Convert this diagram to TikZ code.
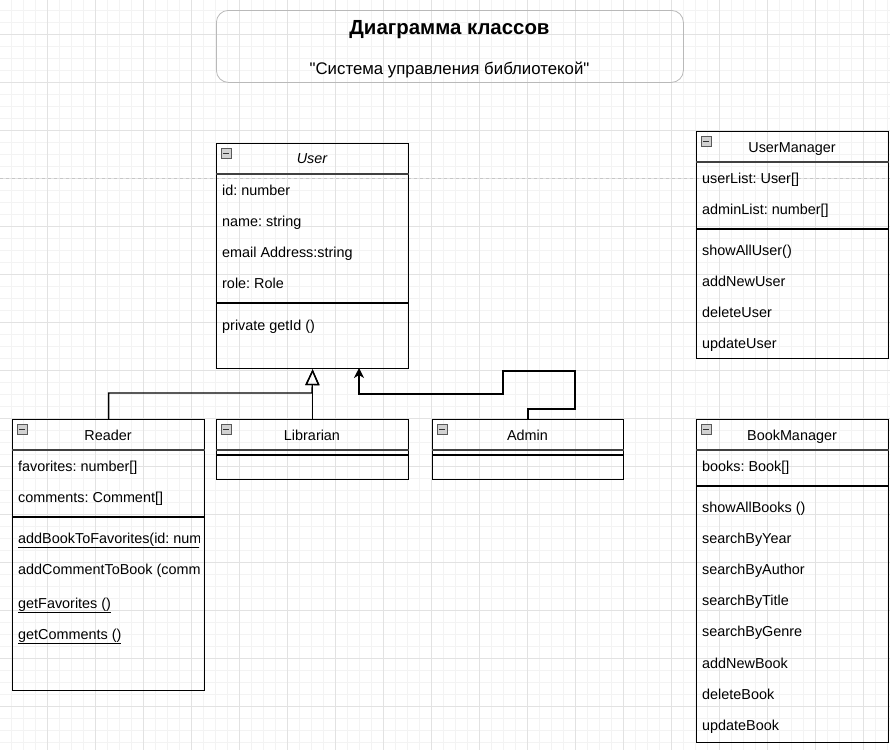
\documentclass[tikz,border=0pt]{standalone}
\usepackage{fontspec}
\setmainfont{Liberation Sans}[Ligatures=TeXOff]
\usepackage{xcolor}
\usepackage{tikz}
\usetikzlibrary{arrows.meta}

\definecolor{gridminor}{HTML}{F3F3F3}
\definecolor{gridmajor}{HTML}{E2E2E2}

\begin{document}
\frenchspacing
\begin{tikzpicture}[
  x=1pt, y=-1pt,
  font=\fontsize{14.4}{17}\selectfont,
  minor/.style={gridminor, line width=0.8pt},
  major/.style={gridmajor, line width=0.8pt},
  pagebrk/.style={gray!45, dashed, line width=0.8pt},
  cls/.style={draw, line width=1.2pt, rectangle, anchor=north west, minimum width=192pt, inner sep=0pt},
  hdr/.style={black!75, line width=1.6pt},
  sep/.style={black, line width=1.2pt},
  ttl/.style={anchor=base, inner sep=0pt},
  item/.style={anchor=base west, inner sep=0pt},
  ico/.style={draw=gray!70!black, fill=gray!35, rectangle, minimum size=10pt, inner sep=0pt, anchor=north west,
    path picture={\draw[black!80, line width=1.2pt] ([xshift=2pt]path picture bounding box.west) -- ([xshift=-2pt]path picture bounding box.east);}},
  gen/.style={-{Triangle[open, length=16pt, width=14pt]}, line width=1.3pt},
  dep/.style={-{Stealth[length=10pt, width=10pt, inset=3pt]}, line width=1.3pt}
]
  \useasboundingbox (0,0) rectangle (890,750);
  \fill[white] (0,0) rectangle (890,750);

  % grid
  \foreach \x in {11,23,...,887} \draw[minor] (\x,0) -- (\x,750);
  \foreach \y in {10,22,...,742} \draw[minor] (0,\y) -- (890,\y);
  \foreach \x in {47,95,...,863} \draw[major] (\x,0) -- (\x,750);
  \foreach \y in {34,82,...,706} \draw[major] (0,\y) -- (890,\y);
  \draw[pagebrk] (0,178) -- (890,178);

  % title
  \node[draw=gray!55, line width=0.8pt, rounded corners=12pt, minimum width=467pt, minimum height=72pt, anchor=north west, inner sep=0pt] (head) at (216,10) {};
  \node[ttl, font=\fontsize{20.4}{24}\selectfont\bfseries] (head-t) at (449.5,34) {Диаграмма классов};
  \node[ttl, font=\fontsize{16.8}{20}\selectfont] (head-s) at (449.5,74) {"Система управления библиотекой"};

  % classes
  \node[cls, minimum height=225pt] (user) at (216,143) {};
  \node[cls, minimum height=271pt] (reader) at (12,419) {};
  \node[cls, minimum height=60pt] (lib) at (216,419) {};
  \node[cls, minimum height=60pt, minimum width=191pt] (admin) at (432,419) {};
  \node[cls, minimum height=227pt] (umgr) at (696,131) {};
  \node[cls, minimum height=323pt] (bmgr) at (696,419) {};

  \foreach \c in {user,reader,lib,admin,umgr,bmgr} {
    \node[ico] (\c-ico) at ([shift={(5pt,-5pt)}]\c.north west) {};
    \draw[hdr] ([yshift=-31]\c.north west) -- ([yshift=-31]\c.north east);
  }
  \foreach \c/\d in {user/160, reader/98, lib/36, admin/36, umgr/98, bmgr/67}
    \draw[sep] ([yshift=-\d]\c.north west) -- ([yshift=-\d]\c.north east);

  % User
  \node[ttl, font=\fontsize{14.4}{17}\selectfont\itshape] (user-t) at (312,163) {User};
  \foreach \t [count=\i from 0] in {id: number, name: string, email Address:string, role: Role}
    \node[item] (user-a\i) at (222,195+31*\i) {\t};
  \node[item] (user-m0) at (222,330) {private getId ()};

  % Reader
  \node[ttl] (reader-t) at (108,440) {Reader};
  \node[item] (reader-a0) at (18,471) {favorites: number[]};
  \node[item] (reader-a1) at (18,502) {comments: Comment[]};
  \begin{scope}
    \clip (reader.north west) rectangle ([xshift=-6pt]reader.south east);
    \node[item] (reader-m0) at (18,543) {\underline{addBookToFavorites(id: number)}};
    \node[item] (reader-m1) at (18,574) {addCommentToBook (comment)};
  \end{scope}
  \node[item] (reader-m2) at (18,608) {\underline{getFavorites ()}};
  \node[item] (reader-m3) at (18,639) {\underline{getComments ()}};

  % Librarian, Admin
  \node[ttl] (lib-t) at (312,440) {Librarian};
  \node[ttl] (admin-t) at (527.5,440) {Admin};

  % UserManager
  \node[ttl] (umgr-t) at (792,152) {UserManager};
  \node[item] (umgr-a0) at (702,183) {userList: User[]};
  \node[item] (umgr-a1) at (702,214) {adminList: number[]};
  \foreach \t [count=\i from 0] in {showAllUser(), addNewUser, deleteUser, updateUser}
    \node[item] (umgr-m\i) at (702,255+31*\i) {\t};

  % BookManager
  \node[ttl] (bmgr-t) at (792,440) {BookManager};
  \node[item] (bmgr-a0) at (702,471) {books: Book[]};
  \foreach \t [count=\i from 0] in {showAllBooks (), searchByYear, searchByAuthor, searchByTitle, searchByGenre, addNewBook, deleteBook, updateBook}
    \node[item] (bmgr-m\i) at (702,512+31.2*\i) {\t};

  % connectors
  \coordinate (j) at (312,393);
  \coordinate (ua) at (359,368);
  \draw[gen] (reader.north) |- (j) -- (user.south);
  \draw[gen] (lib.north) -- (user.south);
  \draw[dep] (admin.north) |- (575,409) |- (503,371) |- (ua |- 0,394) -- (ua);
\end{tikzpicture}
\end{document}
